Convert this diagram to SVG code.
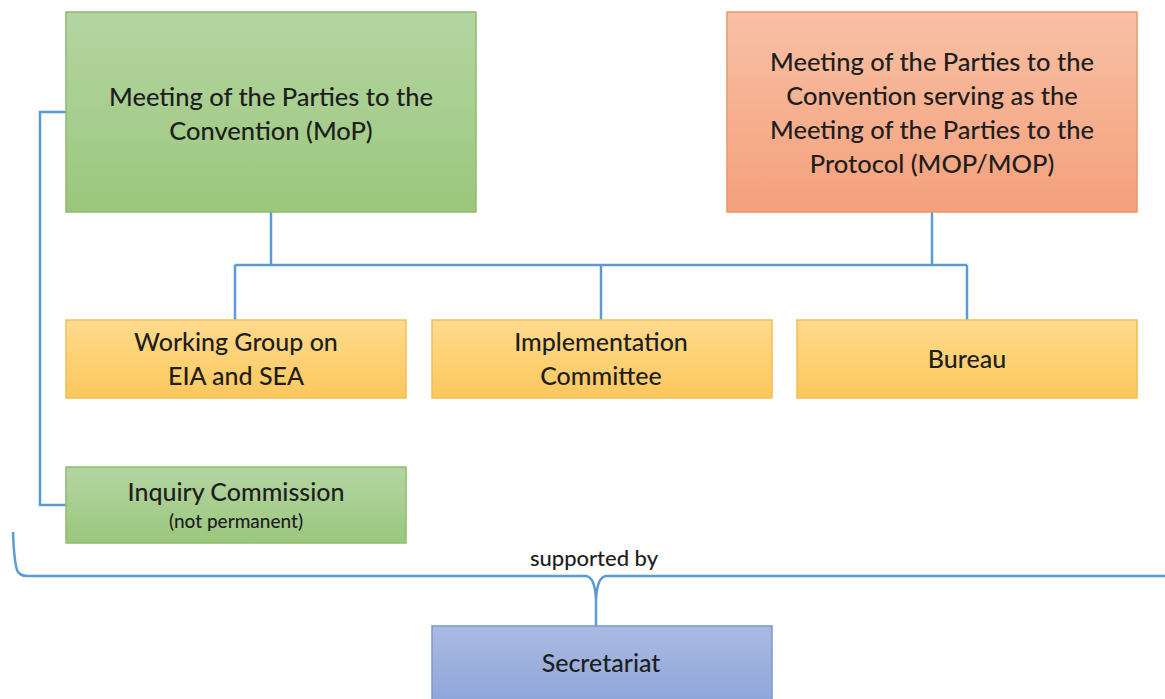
<svg xmlns="http://www.w3.org/2000/svg" width="1165" height="699" viewBox="0 0 1165 699">
<defs>
<linearGradient id="gGreen" x1="0" y1="0" x2="0" y2="1"><stop offset="0" stop-color="#b4d5a2"/><stop offset="1" stop-color="#9bc77c"/></linearGradient>
<linearGradient id="gOrange" x1="0" y1="0" x2="0" y2="1"><stop offset="0" stop-color="#f8c0a5"/><stop offset="1" stop-color="#f4a07b"/></linearGradient>
<linearGradient id="gYellow" x1="0" y1="0" x2="0" y2="1"><stop offset="0" stop-color="#fedb8e"/><stop offset="1" stop-color="#fcc75c"/></linearGradient>
<linearGradient id="gBlue" x1="0" y1="0" x2="0" y2="1"><stop offset="0" stop-color="#aabbe2"/><stop offset="1" stop-color="#8ea5da"/></linearGradient>
</defs>
<style>
.t{font-family:Lato,"Open Sans","Liberation Sans",sans-serif;fill:#1e1e1e;text-anchor:middle;font-weight:500}
.big{font-size:25.5px}
.med{font-size:25px}
.sm{font-size:19px}
.con{fill:none;stroke:#5b9bd5;stroke-width:2.5}
.gb{stroke:#8fbb6e;stroke-width:1.5}
.ob{stroke:#eb9570;stroke-width:1.5}
.yb{stroke:#f2bd55;stroke-width:1.5}
.bb{stroke:#7f96cc;stroke-width:1.5}
</style>
<rect width="1165" height="699" fill="#ffffff"/>
<g id="connectors">
<path class="con" d="M271 212 V265 M932 212 V265 M235 265 H967 M235 265 V320 M601 265 V320 M967 265 V320"/>
<path class="con" d="M66 112 H40 V505 H66"/>
<path class="con" d="M13 532 Q14 560 17 570 Q19 576 28 576 H586 Q595 577 596 600 V628 M596 600 Q597 577 606 576 H1165"/>
</g>
<g id="mop">
<rect x="66" y="12" width="410" height="200" fill="url(#gGreen)" class="gb"/>
<text class="t big" x="271" y="106">Meeting of the Parties to the</text>
<text class="t big" x="271" y="140">Convention (MoP)</text>
</g>
<g id="mopmop">
<rect x="727" y="12" width="410" height="200" fill="url(#gOrange)" class="ob"/>
<text class="t big" x="932" y="71">Meeting of the Parties to the</text>
<text class="t big" x="932" y="105">Convention serving as the</text>
<text class="t big" x="932" y="139">Meeting of the Parties to the</text>
<text class="t big" x="932" y="173">Protocol (MOP/MOP)</text>
</g>
<g id="wg">
<rect x="66" y="320" width="340" height="78" fill="url(#gYellow)" class="yb"/>
<text class="t med" x="236" y="351">Working Group on</text>
<text class="t med" x="236" y="385">EIA and SEA</text>
</g>
<g id="ic">
<rect x="432" y="320" width="340" height="78" fill="url(#gYellow)" class="yb"/>
<text class="t med" x="601" y="351">Implementation</text>
<text class="t med" x="601" y="385">Committee</text>
</g>
<g id="bureau">
<rect x="797" y="320" width="340" height="78" fill="url(#gYellow)" class="yb"/>
<text class="t med" x="967" y="368">Bureau</text>
</g>
<g id="inquiry">
<rect x="66" y="467" width="340" height="76" fill="url(#gGreen)" class="gb"/>
<text class="t med" x="236" y="501">Inquiry Commission</text>
<text class="t sm" x="236" y="528">(not permanent)</text>
</g>
<text class="t" x="594" y="566" style="font-size:22px">supported by</text>
<g id="secretariat">
<rect x="432" y="626" width="340" height="80" fill="url(#gBlue)" class="bb"/>
<text class="t med" x="601" y="672">Secretariat</text>
</g>
</svg>
